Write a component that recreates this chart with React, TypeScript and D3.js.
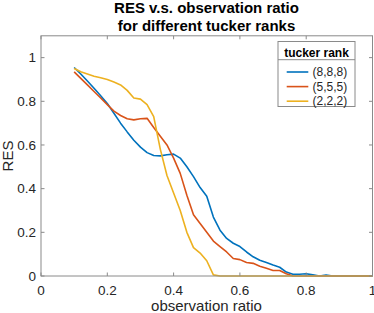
import React from "react"
import * as d3 from "d3"

const ratios = [
  0.1, 0.12, 0.14, 0.16, 0.18, 0.2, 0.22, 0.24, 0.26, 0.28, 0.3, 0.32, 0.34, 0.36, 0.38, 0.4,
  0.42, 0.44, 0.46, 0.48, 0.5, 0.52, 0.54, 0.56, 0.58, 0.6, 0.62, 0.64, 0.66, 0.68, 0.7, 0.72,
  0.74, 0.76, 0.78, 0.8, 0.82, 0.84, 0.86, 0.88, 0.9, 0.92, 0.94, 0.96, 0.98, 1.0
]

const res888 = [
  0.955, 0.925, 0.893, 0.86, 0.825, 0.79, 0.745, 0.7, 0.66, 0.622, 0.59, 0.565, 0.552, 0.55, 0.555, 0.558,
  0.54, 0.5, 0.455, 0.405, 0.365, 0.27, 0.21, 0.172, 0.15, 0.135, 0.11, 0.088, 0.072, 0.062, 0.05, 0.04,
  0.018, 0.008, 0.008, 0.01, 0.005, 0, 0.004, 0, 0, 0, 0, 0, 0, 0
]

const res555 = [
  0.935, 0.905, 0.875, 0.845, 0.815, 0.785, 0.755, 0.735, 0.72, 0.715, 0.72, 0.722, 0.68, 0.64, 0.6, 0.54,
  0.47, 0.37, 0.28, 0.24, 0.2, 0.16, 0.135, 0.11, 0.08, 0.075, 0.062, 0.058, 0.045, 0.035, 0.025, 0.025,
  0.01, 0, 0, 0, 0, 0, 0, 0, 0, 0, 0, 0, 0, 0
]

const res222 = [
  0.95, 0.935, 0.925, 0.915, 0.908, 0.9, 0.888, 0.875, 0.85, 0.815, 0.81, 0.785, 0.73, 0.58, 0.46, 0.38,
  0.3, 0.2, 0.13, 0.105, 0.07, 0.005, 0, 0, 0, 0, 0, 0, 0, 0, 0, 0,
  0, 0, 0, 0, 0, 0, 0, 0, 0, 0, 0, 0, 0, 0
]

const seriesNames = ["(8,8,8)", "(5,5,5)", "(2,2,2)"]
const seriesColors = ["#0072BD", "#D95319", "#EDB120"]
const xTicks = [0, 0.2, 0.4, 0.6, 0.8, 1]
const yTicks = [0, 0.2, 0.4, 0.6, 0.8, 1]

const W = 374
const H = 313
const plot = { left: 41, right: 372.5, top: 35.8, bottom: 276 }
const axisColor = "#8a8a8a"
const textColor = "#262626"
const font = "Arial, 'Liberation Sans', Helvetica, sans-serif"

export default function App() {
  const x = d3.scaleLinear().domain([0, 1]).range([plot.left, plot.right])
  const y = d3.scaleLinear().domain([0, 1.1]).range([plot.bottom, plot.top])
  const line = d3
    .line<number>()
    .x((_, i) => x(ratios[i]))
    .y(d => y(d))

  const allSeries = [res888, res555, res222]
  const tickLen = 3.5

  // legend box
  const lg = { x: 278, y: 41.5, w: 77, h: 65 }

  return (
    <svg
      width={W}
      height={H}
      style={{ position: "absolute", left: 0, top: 0, background: "white" }}
      fontFamily={font}
    >
      <text x={206.5} y={13} textAnchor="middle" fontSize={15} fontWeight="bold" fill="#000">
        RES v.s. observation ratio
      </text>
      <text x={206.5} y={31} textAnchor="middle" fontSize={15} fontWeight="bold" fill="#000">
        for different tucker ranks
      </text>

      {allSeries.map((s, i) => (
        <path key={i} d={line(s) || ""} fill="none" stroke={seriesColors[i]} strokeWidth={1.6} strokeLinejoin="round" />
      ))}

      <rect
        x={plot.left}
        y={plot.top}
        width={plot.right - plot.left}
        height={plot.bottom - plot.top}
        fill="none"
        stroke={axisColor}
        strokeWidth={1}
      />

      {xTicks.map(t => (
        <g key={"x" + t}>
          <line x1={x(t)} x2={x(t)} y1={plot.bottom} y2={plot.bottom - tickLen} stroke={axisColor} />
          <line x1={x(t)} x2={x(t)} y1={plot.top} y2={plot.top + tickLen} stroke={axisColor} />
          <text x={x(t)} y={295} textAnchor="middle" fontSize={13.5} fill={textColor}>
            {d3.format("")(t)}
          </text>
        </g>
      ))}

      {yTicks.map(t => (
        <g key={"y" + t}>
          <line x1={plot.left} x2={plot.left + tickLen} y1={y(t)} y2={y(t)} stroke={axisColor} />
          <line x1={plot.right} x2={plot.right - tickLen} y1={y(t)} y2={y(t)} stroke={axisColor} />
          <text x={36} y={y(t)} dy="0.35em" textAnchor="end" fontSize={13.5} fill={textColor}>
            {d3.format("")(t)}
          </text>
        </g>
      ))}

      <text x={206.5} y={311} textAnchor="middle" fontSize={15} fill={textColor}>
        observation ratio
      </text>
      <text
        transform={`translate(13,156) rotate(-90)`}
        textAnchor="middle"
        fontSize={15}
        fill={textColor}
      >
        RES
      </text>

      <rect x={lg.x} y={lg.y} width={lg.w} height={lg.h} fill="white" stroke={axisColor} />
      <line x1={lg.x} x2={lg.x + lg.w} y1={59.7} y2={59.7} stroke={axisColor} />
      <text x={lg.x + lg.w / 2} y={53} dy="0.35em" textAnchor="middle" fontSize={12} fontWeight="bold" fill="#000">
        tucker rank
      </text>
      {seriesNames.map((n, i) => (
        <g key={n}>
          <line x1={286.7} x2={308.3} y1={72 + i * 14.6} y2={72 + i * 14.6} stroke={seriesColors[i]} strokeWidth={1.6} />
          <text x={312.5} y={72 + i * 14.6} dy="0.35em" fontSize={12} fill={textColor}>
            {n}
          </text>
        </g>
      ))}
    </svg>
  )
}
